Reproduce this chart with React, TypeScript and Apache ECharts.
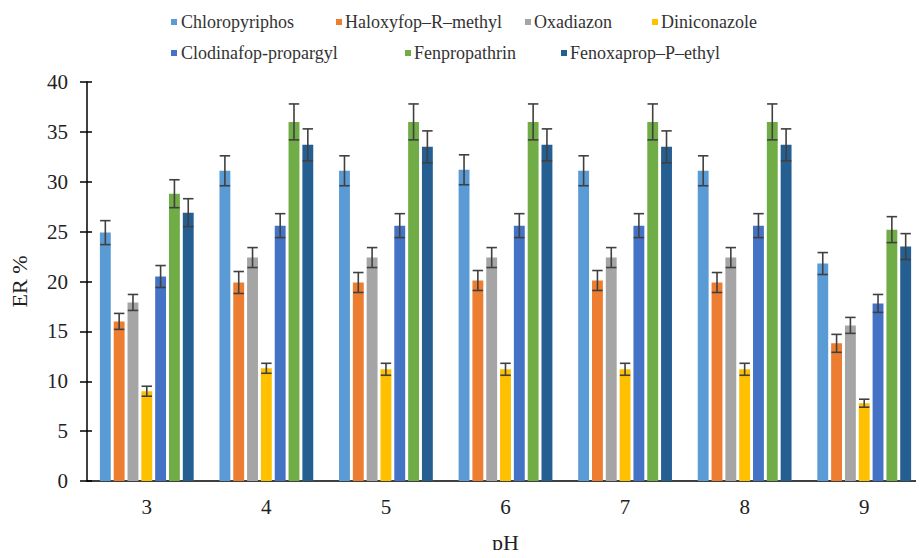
import React, { useEffect, useRef } from "react";
import * as echarts from "echarts";

const categories = ["3", "4", "5", "6", "7", "8", "9"];
const seriesNames = [
  "Chloropyriphos",
  "Haloxyfop–R–methyl",
  "Oxadiazon",
  "Diniconazole",
  "Clodinafop-propargyl",
  "Fenpropathrin",
  "Fenoxaprop–P–ethyl",
];
const colors = ["#5B9BD5", "#ED7D31", "#A5A5A5", "#FFC000", "#4472C4", "#70AD47", "#255E91"];

const chloropyriphos = [24.9, 31.1, 31.1, 31.2, 31.1, 31.1, 21.8];
const haloxyfop = [16.0, 19.9, 19.9, 20.1, 20.1, 19.9, 13.8];
const oxadiazon = [17.9, 22.4, 22.4, 22.4, 22.4, 22.4, 15.6];
const diniconazole = [9.0, 11.3, 11.2, 11.2, 11.2, 11.2, 7.8];
const clodinafop = [20.5, 25.6, 25.6, 25.6, 25.6, 25.6, 17.8];
const fenpropathrin = [28.8, 36.0, 36.0, 36.0, 36.0, 36.0, 25.2];
const fenoxaprop = [26.9, 33.7, 33.5, 33.7, 33.5, 33.7, 23.5];

const chloropyriphosErr = [1.2, 1.5, 1.5, 1.5, 1.5, 1.5, 1.1];
const haloxyfopErr = [0.8, 1.1, 1.0, 1.0, 1.0, 1.0, 0.9];
const oxadiazonErr = [0.8, 1.0, 1.0, 1.0, 1.0, 1.0, 0.8];
const diniconazoleErr = [0.5, 0.5, 0.6, 0.6, 0.6, 0.6, 0.4];
const clodinafopErr = [1.1, 1.2, 1.2, 1.2, 1.2, 1.2, 0.9];
const fenpropathrinErr = [1.4, 1.8, 1.8, 1.8, 1.8, 1.8, 1.3];
const fenoxapropErr = [1.4, 1.6, 1.6, 1.6, 1.6, 1.6, 1.3];

const values = [chloropyriphos, haloxyfop, oxadiazon, diniconazole, clodinafop, fenpropathrin, fenoxaprop];
const errors = [chloropyriphosErr, haloxyfopErr, oxadiazonErr, diniconazoleErr, clodinafopErr, fenpropathrinErr, fenoxapropErr];

const BAR_FRAC = 0.091;
const GAP_FRAC = 0.27;
const FONT = "'Liberation Serif', 'Times New Roman', serif";

// legend layout: [square x, text x, row center y]
const legendPos = [
  [171, 181, 22],
  [336, 345, 22],
  [525, 534, 22],
  [652, 661, 22],
  [171, 181, 53],
  [405, 414, 53],
  [561, 570, 53],
];

export default function App() {
  const ref = useRef<HTMLDivElement>(null);
  useEffect(() => {
    if (!ref.current) return;
    const chart = echarts.init(ref.current, undefined, { renderer: "svg" });
    const n = seriesNames.length;
    const barSeries = seriesNames.map((name, i) => ({
      name,
      type: "bar",
      data: values[i],
      barWidth: (BAR_FRAC * 100).toFixed(1) + "%",
      barGap: GAP_FRAC * 100 + "%",
      itemStyle: { color: colors[i] },
    }));
    const errSeries = seriesNames.map((name, i) => ({
      name: name + " err",
      type: "custom",
      data: values[i].map((v, k) => [k, v, errors[i][k]]),
      encode: { x: 0, y: 1 },
      z: 5,
      renderItem: (params: any, api: any) => {
        const cat = api.value(0);
        const v = api.value(1);
        const e = api.value(2);
        const band = api.size([1, 0])[0];
        const bw = band * BAR_FRAC;
        const step = bw * (1 + GAP_FRAC);
        const base = api.coord([cat, v]);
        const x = base[0] + (i - (n - 1) / 2) * step;
        const yTop = api.coord([cat, v + e])[1];
        const yBot = api.coord([cat, v - e])[1];
        const half = bw * 0.48;
        const style = { stroke: "#404040", lineWidth: 1.6 };
        return {
          type: "group",
          children: [
            { type: "line", shape: { x1: x, y1: yTop, x2: x, y2: yBot }, style },
            { type: "line", shape: { x1: x - half, y1: yTop, x2: x + half, y2: yTop }, style },
            { type: "line", shape: { x1: x - half, y1: yBot, x2: x + half, y2: yBot }, style },
          ],
        };
      },
    }));
    const legendGraphics = seriesNames.map((name, i) => {
      const [sx, tx, cy] = legendPos[i];
      return {
        type: "group",
        children: [
          { type: "rect", shape: { x: sx, y: cy - 3, width: 6, height: 6 }, style: { fill: colors[i] } },
          {
            type: "text",
            x: tx,
            y: cy,
            style: {
              text: name,
              fontFamily: FONT,
              fontSize: 18,
              fill: "#333",
              verticalAlign: "middle",
              align: "left",
            },
          },
        ],
      };
    });
    chart.setOption({
      animation: false,
      textStyle: { fontFamily: FONT },
      graphic: legendGraphics,
      grid: { left: 84, width: 847, top: 82, bottom: 76, containLabel: false },
      xAxis: {
        type: "category",
        data: categories,
        name: "pH",
        nameLocation: "middle",
        nameGap: 50,
        nameTextStyle: { fontFamily: FONT, fontSize: 22, color: "#222" },
        axisLine: { lineStyle: { color: "#000", width: 1.5 } },
        axisTick: { show: false },
        axisLabel: { fontFamily: FONT, fontSize: 21, color: "#222", margin: 15 },
      },
      yAxis: [
        {
          type: "value",
          min: 0,
          max: 40,
          interval: 5,
          name: "ER %",
          nameLocation: "middle",
          nameGap: 57,
          nameTextStyle: { fontFamily: FONT, fontSize: 22, color: "#222" },
          axisLine: { show: true, lineStyle: { color: "#000", width: 1.5 } },
          axisTick: { show: true, length: 7, lineStyle: { color: "#000", width: 1.5 } },
          axisLabel: { fontFamily: FONT, fontSize: 21, color: "#222", margin: 19 },
          splitLine: { show: false },
        },
        {
          type: "value",
          min: 0,
          max: 40,
          interval: 5,
          position: "left",
          axisLine: { show: false },
          axisTick: { show: true, inside: true, length: 5, lineStyle: { color: "#000", width: 1.5 } },
          axisLabel: { show: false },
          splitLine: { show: false },
        },
      ],
      series: [...barSeries, ...errSeries],
    });
    return () => chart.dispose();
  }, []);
  return <div ref={ref} style={{ width: 924, height: 558, margin: -8 }} />;
}
